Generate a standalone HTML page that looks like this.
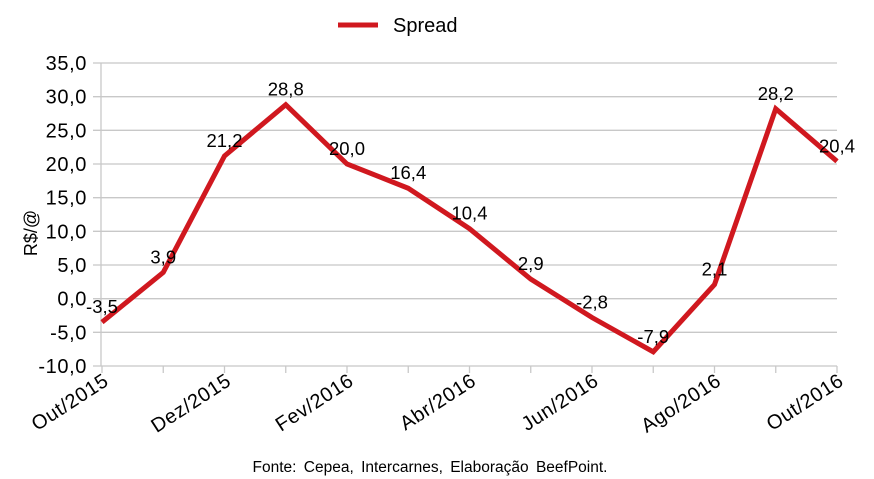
<!DOCTYPE html>
<html><head><meta charset="utf-8"><style>
body{margin:0;background:#fff;}
svg{display:block;font-family:"Liberation Sans",sans-serif;}
</style></head><body>
<svg id="c" width="874" height="479"></svg>
<script>
const categories=["Out/2015","Nov/2015","Dez/2015","Jan/2016","Fev/2016","Mar/2016","Abr/2016","Mai/2016","Jun/2016","Jul/2016","Ago/2016","Set/2016","Out/2016"];
const spreadValues=[-3.5,3.9,21.2,28.8,20.0,16.4,10.4,2.9,-2.8,-7.9,2.1,28.2,20.4];
const yTicks=[-10,-5,0,5,10,15,20,25,30,35];
const xLabelEvery=2;
const NS="http://www.w3.org/2000/svg";
const svg=document.getElementById('c');
const X0=102,X1=837,Y0=366,Y1=63,YMIN=-10,YMAX=35;
function xs(i){return X0+(X1-X0)*i/(categories.length-1);}
function ys(v){return Y0-(v-YMIN)/(YMAX-YMIN)*(Y0-Y1);}
function mk(t,a,p){const e=document.createElementNS(NS,t);for(const k in a)e.setAttribute(k,a[k]);(p||svg).appendChild(e);return e;}
const fmt=v=>v.toFixed(1).replace('.',',');
yTicks.forEach(v=>{
  const g=mk('line',{x1:93,x2:X1,y1:ys(v),y2:ys(v),stroke:'#c8c8c8','stroke-width':1.3});
  
  
  const t=mk('text',{x:87,y:ys(v)+7,'text-anchor':'end','font-size':20,fill:'#000','letter-spacing':0.6});
  t.textContent=fmt(v);
  
  
});
const ax=mk('line',{x1:101,x2:101,y1:Y1,y2:Y0,stroke:'#c8c8c8','stroke-width':1.3});


categories.forEach((c,i)=>{
  const tk=mk('line',{x1:xs(i),x2:xs(i),y1:Y0,y2:Y0+7,stroke:'#c8c8c8','stroke-width':1.3});
  
  
  if(i%xLabelEvery===0){
    const ax_=xs(i)+8, ay=Y0+18;
    const t=mk('text',{x:ax_,y:ay,'text-anchor':'end','font-size':20,fill:'#000','letter-spacing':0.6,transform:`rotate(-33 ${ax_} ${ay})`});
    t.textContent=c;
    
    
  }
});
const yt=mk('text',{x:37,y:233,'text-anchor':'middle','font-size':18,fill:'#000',transform:'rotate(-90 37 233)'});
yt.textContent='R$/@';


const line=mk('polyline',{points:spreadValues.map((v,i)=>xs(i)+','+ys(v)).join(' '),fill:'none',stroke:'#d0181f','stroke-width':5,'stroke-linejoin':'miter'});


spreadValues.forEach((v,i)=>{
  const t=mk('text',{x:xs(i),y:ys(v)-9,'text-anchor':'middle','font-size':18.5,fill:'#000'});
  t.textContent=fmt(v);
  
  
});
const lg=mk('g',{});


mk('line',{x1:338,x2:378,y1:25,y2:25,stroke:'#d0181f','stroke-width':5},lg);
const lt=mk('text',{x:393,y:32,'font-size':20,fill:'#000'},lg);
lt.textContent='Spread';
const src=mk('text',{x:430,y:472,'text-anchor':'middle','font-size':15.5,fill:'#000','word-spacing':3});
src.textContent='Fonte: Cepea, Intercarnes, Elaboração BeefPoint.';


</script>
</body></html>
